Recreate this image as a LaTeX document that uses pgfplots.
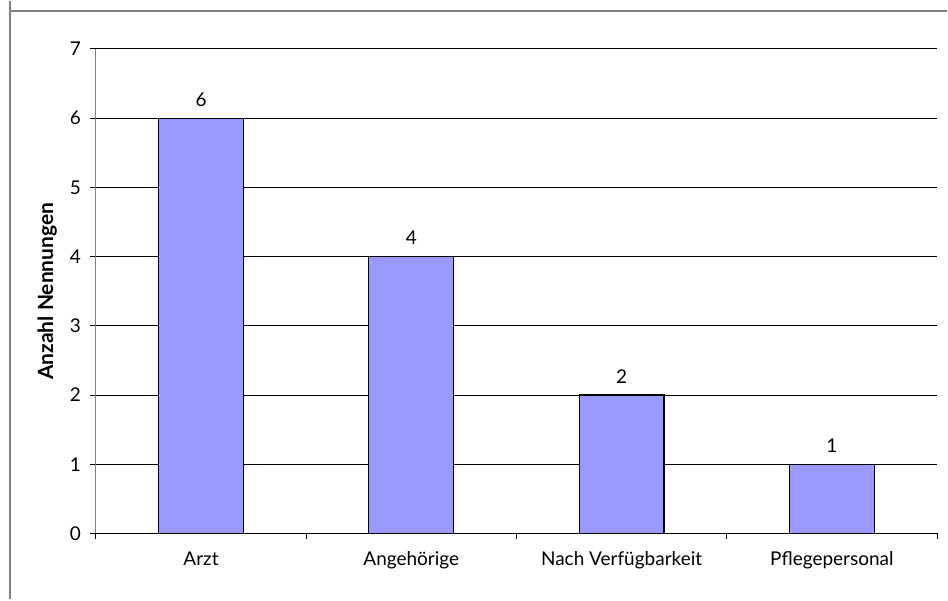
\documentclass[border=0pt]{standalone}
\usepackage{pgfplots}
\pgfplotsset{compat=1.18}
\usepackage{fontspec}
\setmainfont{Lato}
\definecolor{barfill}{HTML}{9999FF}
\definecolor{framegray}{HTML}{808080}
\begin{document}
\begin{tikzpicture}[x=0.5pt,y=0.5pt]
\fill[white] (0,0) rectangle (948,599);
\draw[framegray, line width=1pt] (10,599) -- (10,589) -- (948,589);
\draw[framegray, line width=1pt] (10,589) -- (10,0);
\begin{axis}[
  at={(48pt,33pt)}, anchor=south west,
  scale only axis, width=421pt, height=242.5pt,
  xmin=-0.5, xmax=3.5, ymin=0, ymax=7,
  ytick={0,1,2,3,4,5,6,7},
  xtick={-0.5,0.5,1.5,2.5,3.5},
  xticklabels={},
  extra x ticks={0,1,2,3},
  extra x tick labels={Arzt, Angehörige, Nach Verfügbarkeit, Pflegepersonal},
  extra x tick style={major tick length=0pt},
  tick style={black, line width=0.5pt},
  major tick length=3pt,
  tick align=outside,
  axis x line*=bottom, axis y line*=left,
  x axis line style={black, line width=0.6pt, -},
  y axis line style={framegray, line width=0.6pt, -},
  ymajorgrids,
  grid style={black, line width=0.5pt},
  ylabel={Anzahl Nennungen},
  every axis y label/.style={at={(axis description cs:-0.058,0.5)}, anchor=center, rotate=90, font=\fontsize{10.5}{12}\selectfont\bfseries},
  ticklabel style={font=\fontsize{9.5}{11}\selectfont},
  /pgf/number format/assume math mode=true,
  xticklabel style={anchor=base, yshift=-16pt},
  yticklabel style={anchor=east, xshift=-1pt},
  ybar, bar width=42.5pt,
  nodes near coords,
  every node near coord/.append style={anchor=base, yshift=6pt, font=\fontsize{9.5}{11}\selectfont, black},
  clip=false,
]
\addplot[fill=barfill, draw=black, line width=0.6pt] coordinates {(0,6) (1,4) (2,2) (3,1)};
\end{axis}
\end{tikzpicture}
\end{document}
